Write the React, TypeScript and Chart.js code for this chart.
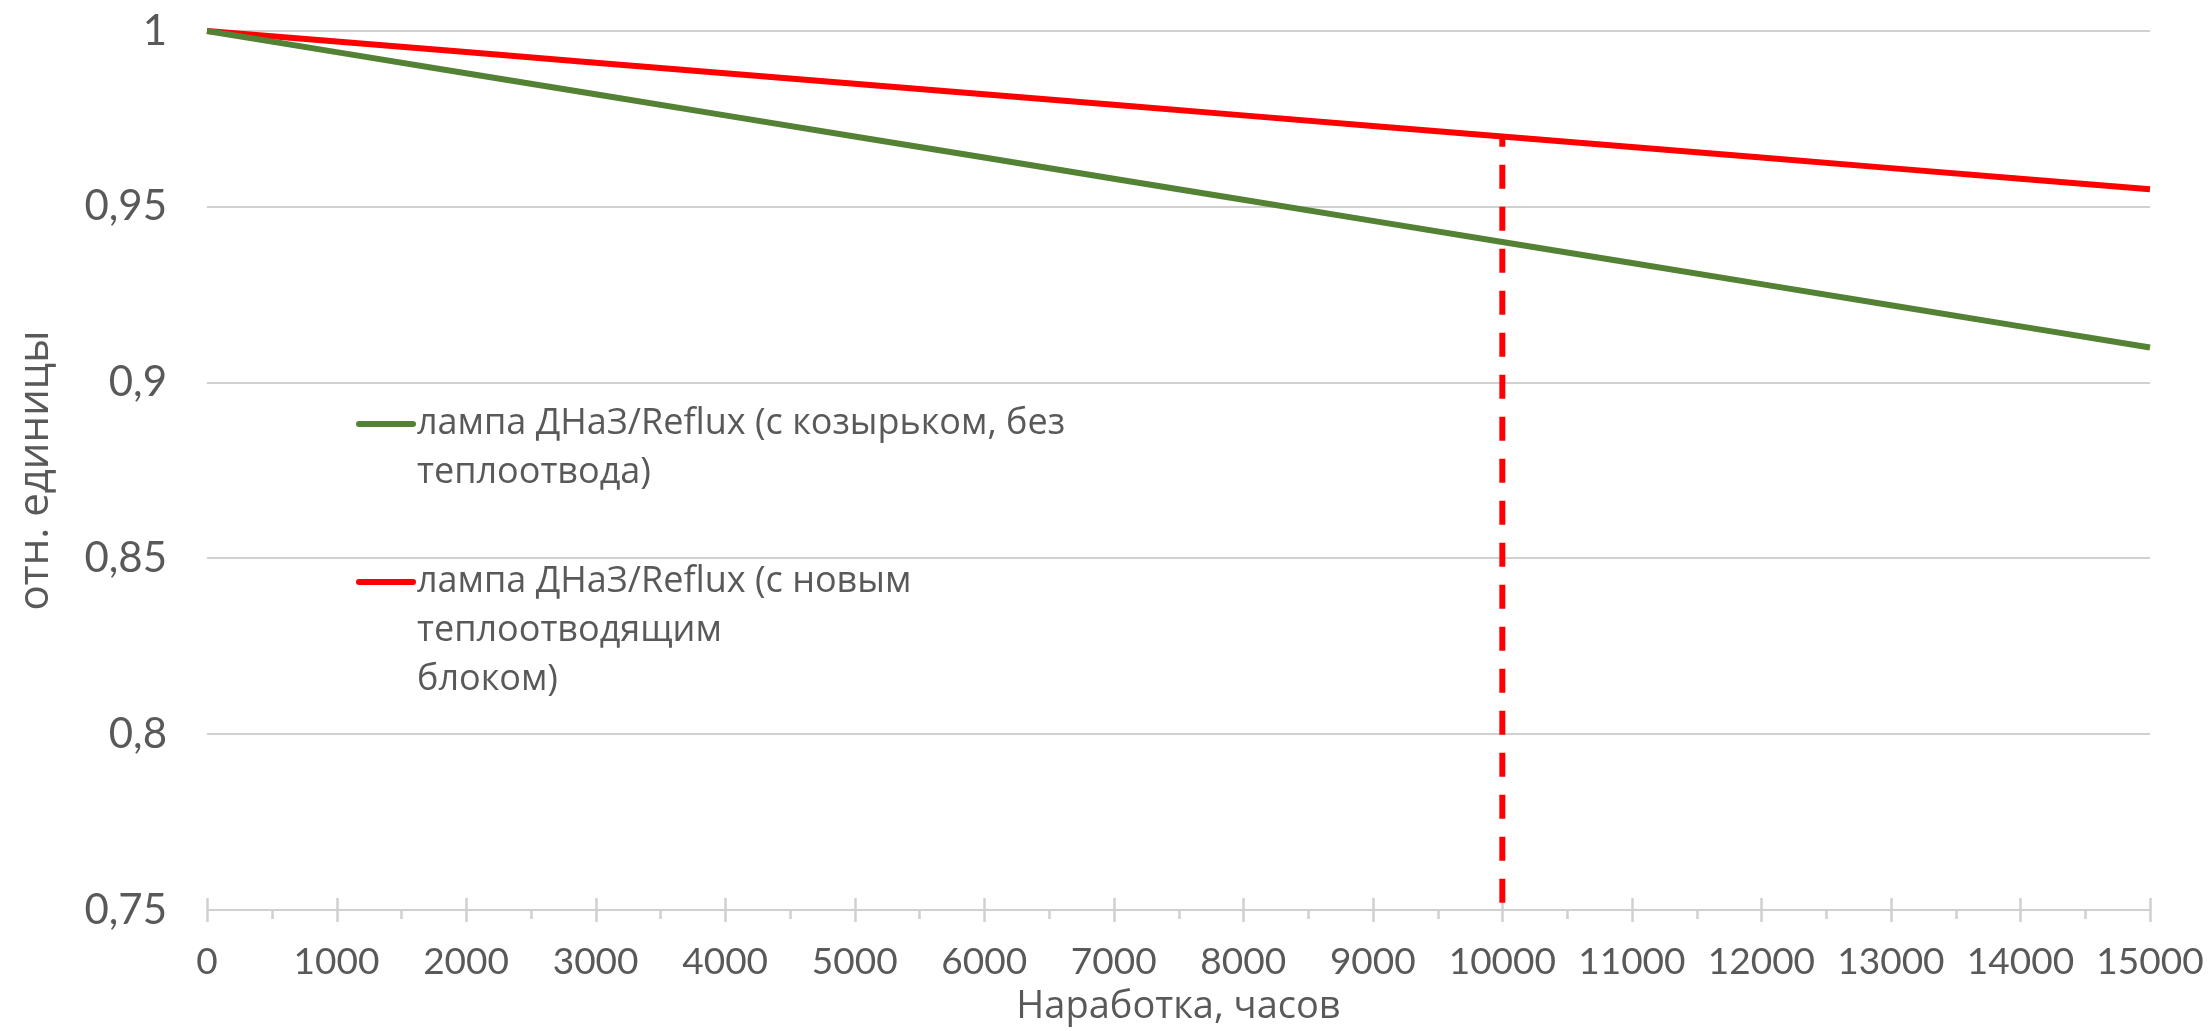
import React, { useEffect, useRef } from 'react';
import { Chart, registerables } from 'chart.js';

Chart.register(...registerables);

// Operating time, hours
const hours = [0, 1000, 2000, 3000, 4000, 5000, 6000, 7000, 8000, 9000, 10000, 11000, 12000, 13000, 14000, 15000];

// Relative luminous flux, lamp with visor and no heat sink
const visorNoSinkValues = [1, 0.994, 0.988, 0.982, 0.976, 0.97, 0.964, 0.958, 0.952, 0.946, 0.94, 0.934, 0.928, 0.922, 0.916, 0.91];

// Relative luminous flux, lamp with the new heat-sink block
const newSinkValues = [1, 0.997, 0.994, 0.991, 0.988, 0.985, 0.982, 0.979, 0.976, 0.973, 0.97, 0.967, 0.964, 0.961, 0.958, 0.955];

// Vertical marker at 10000 h, from the axis up to the red curve
const markerHours = [10000, 10000];
const markerValues = [0.75, 0.97];

// Legend text, already split into its lines
const seriesLabels = [
  ['лампа ДНаЗ/Reflux (с козырьком, без', 'теплоотвода)'],
  ['лампа ДНаЗ/Reflux (с новым', 'теплоотводящим', 'блоком)'],
];

const yTickLabels = ['0,75', '0,8', '0,85', '0,9', '0,95', '1'];
const xAxisTitle = 'Наработка, часов';
const yAxisTitle = 'отн. единицы';

const GREEN = '#548235';
const RED = '#ff0000';
const GRID = '#d0d0d0';
const TEXT = '#595959';
const FONT = "Lato, 'Open Sans', sans-serif";
const TITLE_FONT = "'Open Sans', Lato, sans-serif";

const toPoints = (xs: number[], ys: number[]) => xs.map((x, i) => ({ x, y: ys[i] }));

// Tick marks on the bottom axis: major ones cross the axis, minor ones hang below it
const axisTicksPlugin = {
  id: 'axisTicks',
  beforeDatasetsDraw(chart: any) {
    const { ctx, scales, chartArea } = chart;
    const xs = scales.x;
    const y0 = chartArea.bottom;
    const values: number[] = xs.ticks.map((t: any) => t.value);
    ctx.save();
    ctx.strokeStyle = GRID;
    ctx.lineWidth = 2.5;
    ctx.beginPath();
    values.forEach((v, i) => {
      const px = Math.round(xs.getPixelForValue(v)) + 0.5;
      ctx.moveTo(px, y0 - 12);
      ctx.lineTo(px, y0 + 12);
      if (i < values.length - 1) {
        const mx = Math.round(xs.getPixelForValue((v + values[i + 1]) / 2)) + 0.5;
        ctx.moveTo(mx, y0);
        ctx.lineTo(mx, y0 + 9);
      }
    });
    ctx.stroke();
    ctx.restore();
  },
};

// Legend placed inside the plot, with wrapped labels
const insideLegendPlugin = {
  id: 'insideLegend',
  afterDraw(chart: any) {
    const { ctx } = chart;
    const lineX0 = 359;
    const lineX1 = 413;
    const textX = 417;
    const rows = [424, 582];
    const lineHeight = 49;
    ctx.save();
    ctx.font = `36px 'Open Sans', sans-serif`;
    ctx.fillStyle = TEXT;
    ctx.textBaseline = 'middle';
    ctx.textAlign = 'left';
    seriesLabels.forEach((lines, i) => {
      const ds = chart.data.datasets[i];
      const y = rows[i];
      ctx.strokeStyle = ds.borderColor;
      ctx.lineWidth = 6;
      ctx.lineCap = 'round';
      ctx.beginPath();
      ctx.moveTo(lineX0, y);
      ctx.lineTo(lineX1, y);
      ctx.stroke();
      lines.forEach((line, j) => {
        ctx.fillText(line, textX, y + j * lineHeight);
      });
    });
    ctx.restore();
  },
};

export default function App() {
  const canvasRef = useRef<HTMLCanvasElement | null>(null);

  useEffect(() => {
    const canvas = canvasRef.current;
    if (!canvas) return;
    const chart = new Chart(canvas, {
      type: 'line',
      data: {
        datasets: [
          {
            label: seriesLabels[0].join(' '),
            data: toPoints(hours, visorNoSinkValues),
            borderColor: GREEN,
            borderWidth: 6,
            pointRadius: 0,
            tension: 0,
            clip: false as any,
          },
          {
            label: seriesLabels[1].join(' '),
            data: toPoints(hours, newSinkValues),
            borderColor: RED,
            borderWidth: 6,
            pointRadius: 0,
            tension: 0,
            clip: false as any,
          },
          {
            label: 'marker',
            data: toPoints(markerHours, markerValues),
            borderColor: RED,
            borderWidth: 6,
            borderDash: [24, 18],
            borderDashOffset: 34.7,
            borderCapStyle: 'butt',
            pointRadius: 0,
            clip: false as any,
          },
        ],
      },
      options: {
        animation: false,
        responsive: false,
        layout: { padding: 0 },
        plugins: {
          legend: { display: false },
          tooltip: { enabled: false },
        },
        scales: {
          x: {
            type: 'linear',
            min: 0,
            max: 15000,
            grid: { display: false },
            border: { display: false },
            ticks: {
              stepSize: 1000,
              padding: 22,
              color: TEXT,
              font: { family: FONT, size: 37, weight: '400' },
              maxRotation: 0,
              autoSkip: false,
              callback: (v: any) => String(v),
            },
            title: {
              display: true,
              text: xAxisTitle,
              color: TEXT,
              font: { family: TITLE_FONT, size: 38, weight: '400' },
              padding: { top: 0, bottom: 1 },
            },
            afterFit: (scale: any) => {
              scale.height = 121;
              scale.paddingLeft = 0;
              scale.paddingRight = 59;
            },
          },
          y: {
            min: 0.75,
            max: 1,
            grid: { color: GRID, lineWidth: 2, drawTicks: false },
            border: { display: false },
            ticks: {
              stepSize: 0.05,
              padding: 40,
              color: TEXT,
              font: { family: FONT, size: 42, weight: '400' },
              callback: (_v: any, i: number) => yTickLabels[i],
            },
            title: {
              display: true,
              text: yAxisTitle,
              color: TEXT,
              font: { family: TITLE_FONT, size: 42, weight: '400' },
              padding: { top: 11, bottom: 0 },
            },
            afterFit: (scale: any) => {
              scale.width = 207;
              scale.paddingTop = 31;
              scale.paddingBottom = 0;
            },
          },
        },
      },
      plugins: [axisTicksPlugin, insideLegendPlugin],
    });
    return () => chart.destroy();
  }, []);

  return (
    <div style={{ position: 'fixed', left: 0, top: 0, width: 2209, height: 1031, background: '#fff' }}>
      <canvas ref={canvasRef} width={2209} height={1031} style={{ display: 'block' }} />
    </div>
  );
}
